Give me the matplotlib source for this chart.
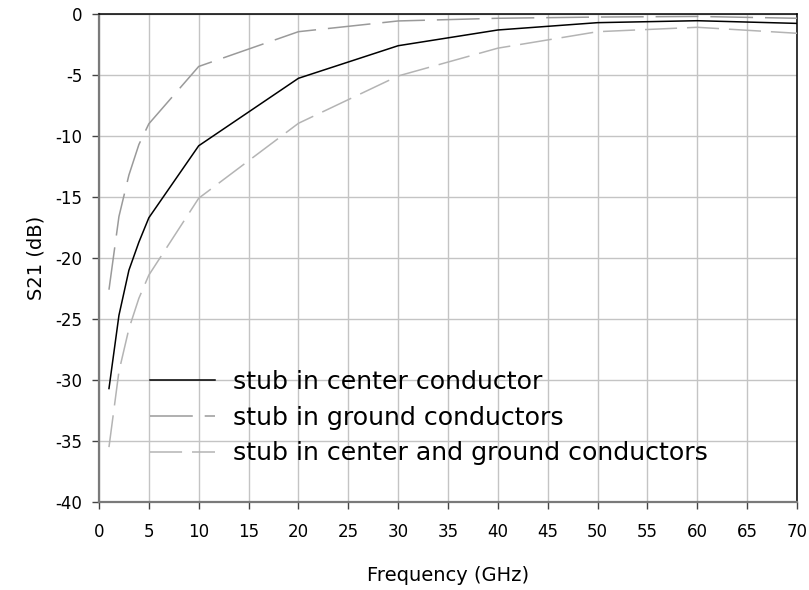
import matplotlib
matplotlib.use("Agg")
import matplotlib.pyplot as plt

# Transmission S21 versus frequency for the three stub placements
freq_ghz = [1, 2, 3, 4, 5, 10, 20, 30, 40, 50, 60, 70]
s21_center = [-30.7, -24.7, -21.0, -18.7, -16.7, -10.8, -5.27, -2.6, -1.31, -0.71, -0.55, -0.77]
s21_ground = [-22.6, -16.6, -13.2, -10.7, -9.0, -4.3, -1.45, -0.57, -0.35, -0.25, -0.2, -0.35]
s21_both = [-35.5, -29.3, -25.8, -23.3, -21.4, -15.1, -8.96, -5.08, -2.8, -1.45, -1.09, -1.58]

labels = [
    "stub in center conductor",
    "stub in ground conductors",
    "stub in center and ground conductors",
]
x_ticks = list(range(0, 71, 5))
y_ticks = list(range(-40, 1, 5))

plt.rcParams["font.family"] = ["DejaVu Sans"]
plt.rcParams["axes.unicode_minus"] = False

fig = plt.figure(figsize=(8.09, 5.90), dpi=100)
ax = fig.add_axes([99 / 809, 1 - 502 / 590, 698 / 809, 488 / 590])

ax.plot(freq_ghz, s21_center, color="black", lw=1.1, label=labels[0], zorder=4)
ax.plot(freq_ghz, s21_ground, color="#9a9a9a", lw=1.1, dashes=(28, 7.8),
        label=labels[1], zorder=3)
ax.plot(freq_ghz, s21_both, color="#b4b4b4", lw=1.1, dashes=(21, 6.5),
        label=labels[2], zorder=3)

ax.set_xlim(0, 70)
ax.set_ylim(-40, 0)
ax.set_xticks(x_ticks)
ax.set_yticks(y_ticks)
ax.grid(True, color="#c4c4c4", lw=1.0, zorder=0)
ax.set_axisbelow(True)

for side in ("left", "bottom"):
    ax.spines[side].set_color("#7a7a7a")
    ax.spines[side].set_linewidth(1.6)
for side in ("top", "right"):
    ax.spines[side].set_color("black")
    ax.spines[side].set_linewidth(1.1)

ax.tick_params(axis="both", direction="out", length=5, width=1.0,
               color="#444444", labelsize=12, labelcolor="black")
ax.tick_params(axis="x", pad=10)
ax.tick_params(axis="y", pad=7)

ax.set_xlabel("Frequency (GHz)", fontsize=14, labelpad=18)
ax.set_ylabel("S21 (dB)", fontsize=14, labelpad=7)

ax.legend(loc="upper left", bbox_to_anchor=(0.073, 0.270), frameon=False,
          fontsize=18.2, handlelength=2.57, handletextpad=0.71,
          labelspacing=0.46, borderpad=0, borderaxespad=0)

fig.savefig("out.png", dpi=100)
